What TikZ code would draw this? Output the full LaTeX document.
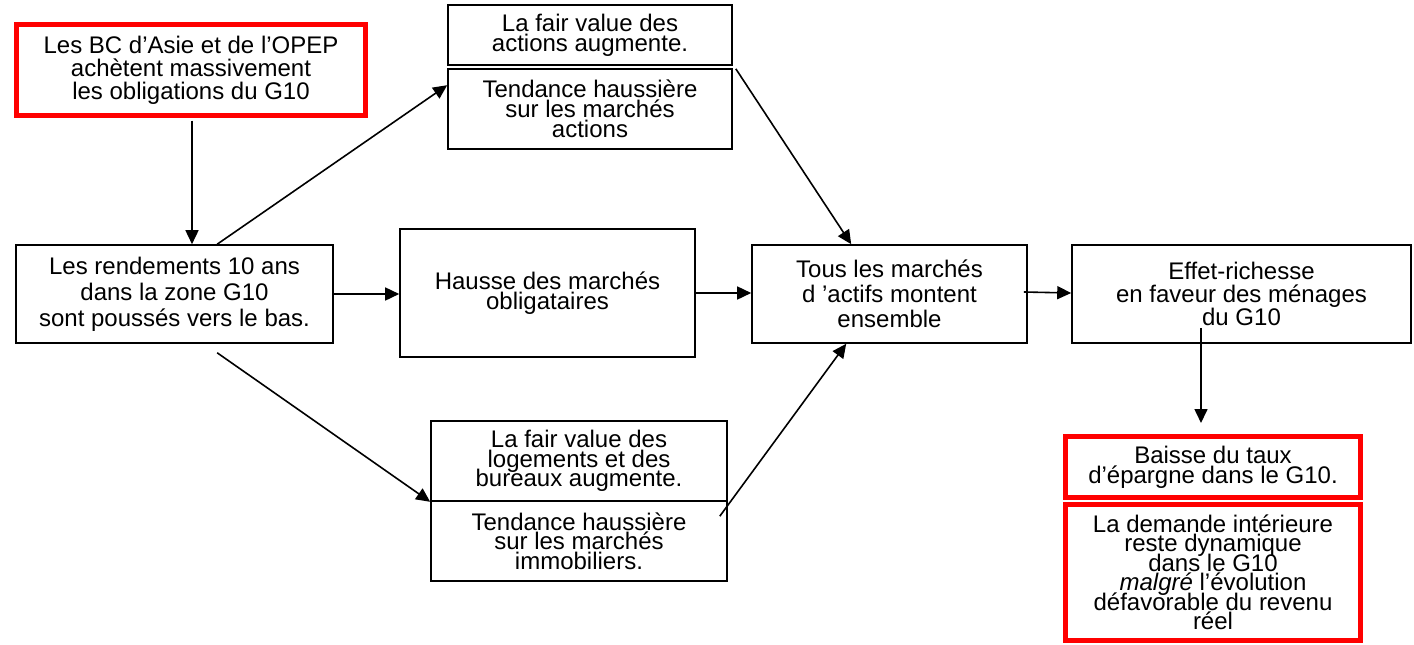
\documentclass[tikz,border=0pt]{standalone}
\usepackage{fontspec}
\setmainfont{Liberation Sans}
\usetikzlibrary{arrows.meta,calc}
\newcommand\mytight{\lineskiplimit=-100pt\relax\lineskip=0pt\relax}
\begin{document}
\begin{tikzpicture}[x=1pt,y=-1pt,
  bx/.style={draw=black, line width=1.6pt, inner sep=0pt, align=center, fill=white,
    font={\fontsize{24}{#1}\selectfont\mytight}},
  rbx/.style={draw=red, line width=5pt, inner sep=0pt, align=center, fill=white,
    font={\fontsize{24}{#1}\selectfont\mytight}},
  arr/.style={draw=black, line width=1.6pt, -{Triangle[length=14pt,width=13pt]}}]
\useasboundingbox (0,0) rectangle (1414,645);

\node[rbx=23, minimum width=349, minimum height=91] (A) at (191,70)
  {Les BC d’Asie et de l’OPEP\\achètent massivement\\les obligations du G10};
\node[bx=26, minimum width=317, minimum height=98] (B) at (174.5,294)
  {Les rendements 10 ans\\dans la zone G10\\sont poussés vers le bas.};
\node[bx=20, minimum width=284, minimum height=60] (C1) at (590,35)
  {La fair value des\\actions augmente.};
\node[bx=20, minimum width=284, minimum height=80] (C2) at (590,109)
  {Tendance haussière\\sur les marchés\\actions};
\node[bx=20, minimum width=295, minimum height=128] (D) at (547.5,293)
  {Hausse des marchés\\obligataires};
\node[bx=25, minimum width=275, minimum height=98] (E) at (889.5,294)
  {Tous les marchés\\d ’actifs montent\\ensemble};
\node[bx=23, minimum width=339, minimum height=98] (F) at (1241.5,294)
  {Effet-richesse\\en faveur des ménages\\du G10};
\node[bx=19.5, minimum width=296, minimum height=80] (I) at (579,461)
  {La fair value des\\logements et des\\bureaux augmente.};
\node[bx=19.5, minimum width=296, minimum height=80] (J) at (579,541)
  {Tendance haussière\\sur les marchés\\immobiliers.};
\node[rbx=20, minimum width=295, minimum height=61] (G) at (1213,467)
  {Baisse du taux\\d’épargne dans le G10.};
\node[rbx=19.5, minimum width=295, minimum height=136] (H) at (1213,572.5)
  {La demande intérieure\\reste dynamique\\dans le G10\\\textit{malgré} l’évolution\\défavorable du revenu\\réel};

\draw[arr] ($(A.south)+(1,2.5)$) -- ($(A.south |- B.north)+(1,0)$);
\draw[arr] ($(B.north west)+(202,0)$) -- ($(C2.north west)+(0,17)$);
\draw[arr] (B.east) -- (B.east -| D.west);
\draw[arr] ($(B.south west)+(202,9)$) -- (I.south west);
\draw[arr] ($(C1.south east)+(3,3)$) -- ($(E.north west)+(100,0)$);
\draw[arr] (D.east) -- (D.east -| E.west);
\draw[arr] ($(J.north east)+(-8,16)$) -- ($(E.south west)+(95,0)$);
\draw[arr] ($(E.east)+(-4,-2)$) -- ($(E.east -| F.west)+(0,-1)$);
\draw[arr] ($(F.south)+(-40.5,-16)$) -- ($(G.north)+(-12,-11)$);
\end{tikzpicture}
\end{document}
